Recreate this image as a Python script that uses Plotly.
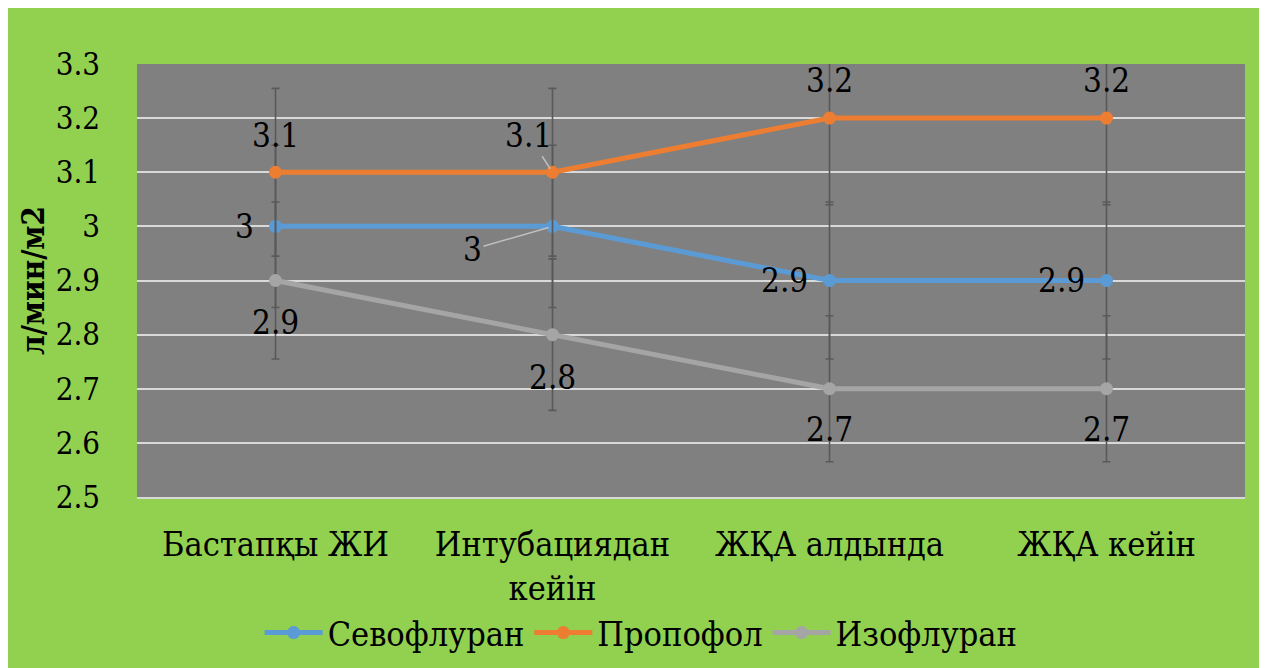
import plotly.graph_objects as go

categories = ["Бастапқы ЖИ", "Интубациядан<br>кейін", "ЖҚА алдында", "ЖҚА кейін"]
sevoflurane = [3.0, 3.0, 2.9, 2.9]
propofol = [3.1, 3.1, 3.2, 3.2]
isoflurane = [2.9, 2.8, 2.7, 2.7]
series_names = ["Севофлуран", "Пропофол", "Изофлуран"]
y_ticks = [2.5, 2.6, 2.7, 2.8, 2.9, 3.0, 3.1, 3.2, 3.3]
y_tick_text = ["2.5", "2.6", "2.7", "2.8", "2.9", "3", "3.1", "3.2", "3.3"]
error_pct = 5

FONT = "DejaVu Serif Condensed, DejaVu Serif"
GREEN = "#92D050"
PLOT_GRAY = "#808080"
GRID = "#D9D9D9"
colors = ["#5B9BD5", "#ED7D31", "#A5A5A5"]

# label placement per series/point: (xshift, yshift, xanchor) or leader-line offsets
label_style = {
    "Севофлуран": [(-20, 0, "right"), ("leader", -80, 23), (-20, 0, "right"), (-20, 0, "right")],
    "Пропофол": [(0, 37, "center"), ("leader", -24, -37), (0, 38, "center"), (0, 38, "center")],
    "Изофлуран": [(0, -42, "center"), (0, -43, "center"), (0, -41, "center"), (0, -41, "center")],
}

fig = go.Figure()
annotations = []
for name, vals, col in zip(series_names, [sevoflurane, propofol, isoflurane], colors):
    fig.add_trace(go.Scatter(
        x=categories, y=vals, name=name,
        mode="lines+markers",
        line=dict(color=col, width=5),
        marker=dict(color=col, size=13),
        error_y=dict(type="percent", value=error_pct, color="#595959",
                     thickness=1.6, width=4),
    ))
    for i, (c, v) in enumerate(zip(categories, vals)):
        st = label_style[name][i]
        txt = f"{v:g}"
        if st[0] == "leader":
            annotations.append(dict(
                x=c, y=v, text=txt, showarrow=True, ax=st[1], ay=st[2],
                arrowhead=0, arrowwidth=1.5, arrowcolor="#BFBFBF", standoff=4,
                font=dict(family=FONT, size=33, color="black"),
            ))
        else:
            annotations.append(dict(
                x=c, y=v, text=txt, showarrow=False,
                xshift=st[0], yshift=st[1], xanchor=st[2], yanchor="middle",
                font=dict(family=FONT, size=33, color="black"),
            ))

fig.update_layout(
    width=1267, height=668, autosize=False,
    margin=dict(l=129, r=30, t=56, b=179),
    paper_bgcolor=GREEN, plot_bgcolor=PLOT_GRAY,
    font=dict(family=FONT, size=33, color="black"),
    showlegend=True,
    legend=dict(orientation="h", x=0.455, xanchor="center", y=-0.314, yanchor="middle",
                font=dict(family=FONT, size=34), itemwidth=58, bgcolor="rgba(0,0,0,0)"),
    annotations=annotations,
)
fig.update_xaxes(
    showgrid=False, zeroline=False, showline=True, linecolor=GRID, linewidth=2,
    tickfont=dict(family=FONT, size=34), ticklabelstandoff=16, range=[-0.5, 3.5],
)
fig.update_yaxes(
    range=[2.5, 3.3], tickvals=y_ticks, ticktext=y_tick_text,
    showgrid=True, gridcolor=GRID, gridwidth=2, zeroline=False,
    tickfont=dict(family=FONT, size=31), ticklabelstandoff=36,
    title=dict(text="<b>л/мин/м2</b>", font=dict(family=FONT, size=31), standoff=1),
)

fig.write_html("out.html")
